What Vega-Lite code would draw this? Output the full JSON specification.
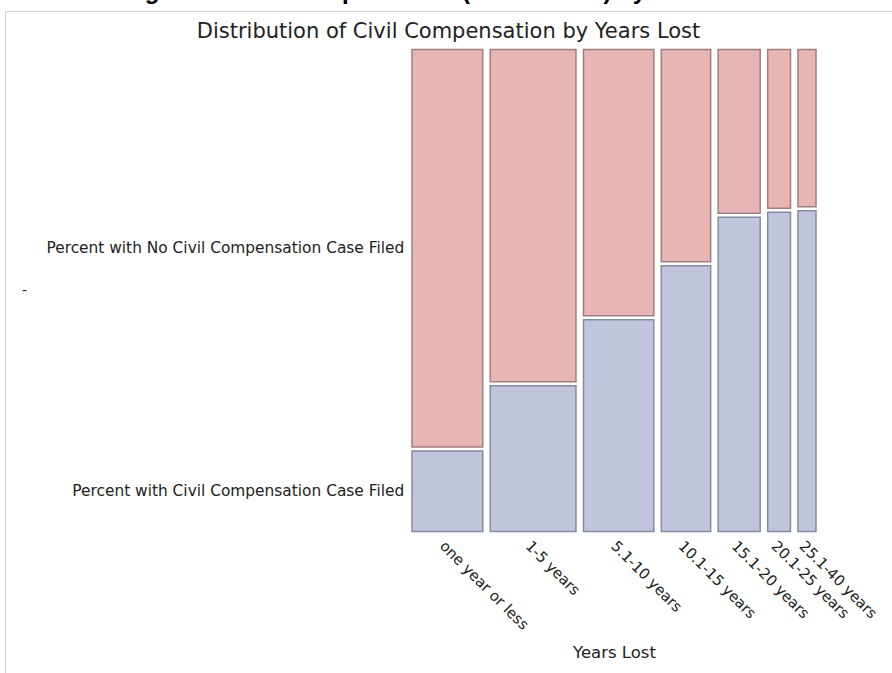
{
  "$schema": "https://vega.github.io/schema/vega-lite/v6.json",
  "width": 887,
  "height": 662,
  "autosize": {"type": "none"},
  "padding": {"left": 5, "top": 11, "right": 0, "bottom": 0},
  "background": "white",
  "config": {
    "view": {"stroke": "#cfcfcf", "strokeWidth": 1},
    "font": "DejaVu Sans"
  },
  "title": {
    "text": "Figure 8: Civil Compensation (Mosaic Plot) by Years Lost",
    "subtitle": "Distribution of Civil Compensation by Years Lost",
    "anchor": "middle",
    "frame": "group",
    "offset": -31,
    "font": "Liberation Sans",
    "fontSize": 24,
    "fontWeight": "bold",
    "color": "#000000",
    "subtitleFont": "DejaVu Sans",
    "subtitleFontSize": 21,
    "subtitleColor": "#222222",
    "subtitlePadding": 17
  },
  "data": {
    "values": [
      {"k": 1, "years": "one year or less", "o": 1, "outcome": "Percent with Civil Compensation Case Filed", "share": 78.2, "pct": 17.4},
      {"k": 1, "years": "one year or less", "o": 2, "outcome": "Percent with No Civil Compensation Case Filed", "share": 78.2, "pct": 82.6},
      {"k": 2, "years": "1-5 years", "o": 1, "outcome": "Percent with Civil Compensation Case Filed", "share": 93.2, "pct": 30.8},
      {"k": 2, "years": "1-5 years", "o": 2, "outcome": "Percent with No Civil Compensation Case Filed", "share": 93.2, "pct": 69.2},
      {"k": 3, "years": "5.1-10 years", "o": 1, "outcome": "Percent with Civil Compensation Case Filed", "share": 77.8, "pct": 44.4},
      {"k": 3, "years": "5.1-10 years", "o": 2, "outcome": "Percent with No Civil Compensation Case Filed", "share": 77.8, "pct": 55.6},
      {"k": 4, "years": "10.1-15 years", "o": 1, "outcome": "Percent with Civil Compensation Case Filed", "share": 56.8, "pct": 55.5},
      {"k": 4, "years": "10.1-15 years", "o": 2, "outcome": "Percent with No Civil Compensation Case Filed", "share": 56.8, "pct": 44.5},
      {"k": 5, "years": "15.1-20 years", "o": 1, "outcome": "Percent with Civil Compensation Case Filed", "share": 49.5, "pct": 65.5},
      {"k": 5, "years": "15.1-20 years", "o": 2, "outcome": "Percent with No Civil Compensation Case Filed", "share": 49.5, "pct": 34.5},
      {"k": 6, "years": "20.1-25 years", "o": 1, "outcome": "Percent with Civil Compensation Case Filed", "share": 30.3, "pct": 66.5},
      {"k": 6, "years": "20.1-25 years", "o": 2, "outcome": "Percent with No Civil Compensation Case Filed", "share": 30.3, "pct": 33.5},
      {"k": 7, "years": "25.1-40 years", "o": 1, "outcome": "Percent with Civil Compensation Case Filed", "share": 25.5, "pct": 66.8},
      {"k": 7, "years": "25.1-40 years", "o": 2, "outcome": "Percent with No Civil Compensation Case Filed", "share": 25.5, "pct": 33.2}
    ]
  },
  "transform": [
    {"stack": "share", "groupby": ["outcome"], "sort": [{"field": "k", "order": "ascending"}], "as": ["x0", "x1"]},
    {"stack": "pct", "groupby": ["years"], "sort": [{"field": "o", "order": "ascending"}], "offset": "normalize", "as": ["y0", "y1"]}
  ],
  "layer": [
    {
      "mark": {"type": "rect", "xOffset": 3.75, "x2Offset": -3.75, "yOffset": -2, "y2Offset": 2, "strokeWidth": 1.5},
      "encoding": {
        "x": {
          "field": "x0", "type": "quantitative",
          "scale": {"range": [403.25, 814.75], "nice": false, "zero": true},
          "axis": {"title": "Years Lost", "labels": false, "ticks": false, "domain": false, "grid": false, "offset": -30, "titlePadding": 1, "titleFont": "DejaVu Sans", "titleFontSize": 16.5, "titleFontWeight": "normal", "titleColor": "#222222"}
        },
        "x2": {"field": "x1"},
        "y": {
          "field": "y0", "type": "quantitative",
          "scale": {"domain": [0, 1], "range": [522.5, 36.5], "nice": false},
          "axis": {"title": "-", "labels": false, "ticks": false, "domain": false, "grid": false, "titleAngle": 0, "titleX": 19, "titleAlign": "center", "titleBaseline": "middle", "titleFont": "DejaVu Sans", "titleFontSize": 14, "titleFontWeight": "normal", "titleColor": "#222222"}
        },
        "y2": {"field": "y1"},
        "fill": {
          "field": "outcome", "type": "nominal",
          "scale": {"domain": ["Percent with Civil Compensation Case Filed", "Percent with No Civil Compensation Case Filed"], "range": ["#C0C5DD", "#E8B5B5"]},
          "legend": null
        },
        "stroke": {
          "field": "outcome", "type": "nominal",
          "scale": {"domain": ["Percent with Civil Compensation Case Filed", "Percent with No Civil Compensation Case Filed"], "range": ["#858B9E", "#9E7F7F"]},
          "legend": null
        }
      }
    },
    {
      "transform": [
        {"filter": "datum.k == 1"},
        {"calculate": "(datum.y0 + datum.y1) / 2", "as": "ym"}
      ],
      "mark": {"type": "text", "align": "right", "baseline": "middle", "dx": -4, "font": "DejaVu Sans", "fontSize": 15.4, "color": "#222222"},
      "encoding": {
        "x": {"field": "x0", "type": "quantitative"},
        "y": {"field": "ym", "type": "quantitative"},
        "text": {"field": "outcome"}
      }
    },
    {
      "transform": [
        {"filter": "datum.o == 1"},
        {"calculate": "(datum.x0 + datum.x1) / 2", "as": "xm"}
      ],
      "mark": {"type": "text", "align": "left", "baseline": "top", "angle": 45, "yOffset": 5, "font": "DejaVu Sans", "fontSize": 14.8, "color": "#222222"},
      "encoding": {
        "x": {"field": "xm", "type": "quantitative"},
        "y": {"datum": 0, "type": "quantitative"},
        "text": {"field": "years"}
      }
    }
  ]
}
